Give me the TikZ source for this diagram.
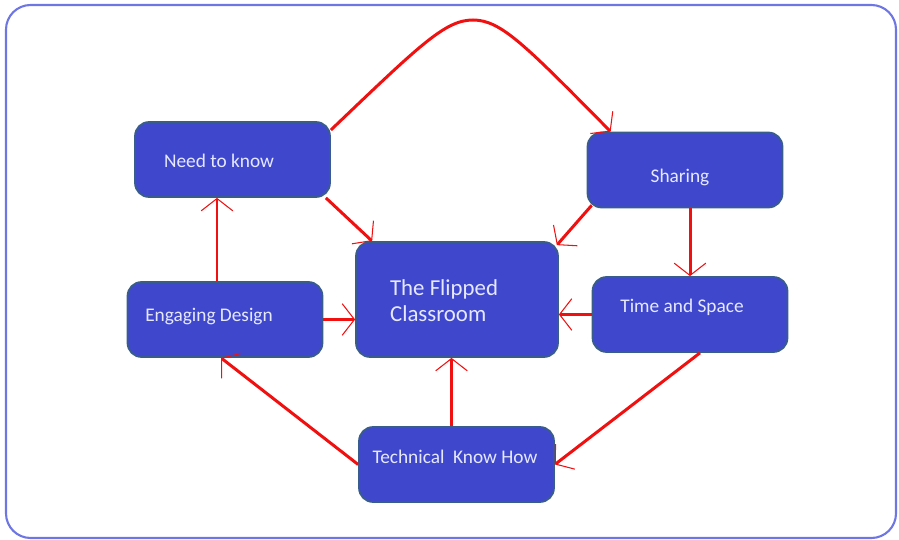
\documentclass[tikz,border=0pt]{standalone}
\usepackage{fontspec}
\setmainfont{Carlito}
\usetikzlibrary{arrows.meta}
\definecolor{boxblue}{HTML}{3F48CC}
\definecolor{boxedge}{HTML}{385D8A}
\definecolor{frameblue}{HTML}{6E76E4}
\definecolor{arrowred}{HTML}{F01010}
\definecolor{textlight}{HTML}{E6E8FF}

\begin{document}
\begin{tikzpicture}[
    x=0.02cm, y=-0.02cm,
    every node/.style={font=\fontsize{11}{13}\selectfont},
    >={Straight Barb[length=7pt, width=18pt, line width=0.6pt]},
    box/.style={draw=boxedge, fill=boxblue, rounded corners=8pt, minimum width=3.9cm,
                minimum height=1.5cm, line width=1pt},
    boxtext/.style={text=textlight, inner sep=1pt},
    link/.style={->, arrowred, line width=1.7pt},
]

% Frame
\useasboundingbox (0,0) rectangle (899,540);
\draw[frameblue, line width=1.2pt, rounded corners=14pt] (6,5) rectangle (896,538);

% === Boxes ===
\node[box] (need) at (232.5, 159.5) {};
\node[boxtext] (need-txt) at (219, 161) {Need to know};

\node[box] (share) at (685, 170) {};
\node[boxtext] (share-txt) at (680, 177) {Sharing};

\node[box, minimum width=4.04cm, minimum height=2.3cm] (flip) at (457, 299.5) {};
\node[boxtext, anchor=west, align=left, font=\fontsize{13}{14.8}\selectfont] (flip-txt) at (388, 301)
      {The Flipped\\Classroom};

\node[box] (engage) at (225, 319.5) {};
\node[boxtext] (engage-txt) at (209, 317) {Engaging Design};

\node[box] (time) at (690, 314.5) {};
\node[boxtext] (time-txt) at (682, 307) {Time and Space};

\node[box] (tech) at (456.5, 464.5) {};
\node[boxtext] (tech-txt) at (455, 457) {Technical\ \ Know How};

% === Arrows ===
\draw[link] ([yshift=0.59cm]need.east) .. controls (420,45) and (445,20) .. (473,20)
      .. controls (501,20) and (525,45) .. ([xshift=0.48cm]share.north west);
\draw[link] ([xshift=-0.1cm]need.south east) -- ([xshift=0.34cm]flip.north west);
\draw[link] ([xshift=0.1cm, yshift=0.06cm]share.south west) -- ([xshift=-0.04cm, yshift=-0.08cm]flip.north east);
\draw[link] (time.north |- share.south) -- (time.north);
\draw[link] (time.west) -- (time.west -| flip.east);
\draw[link] (engage.east) -- (engage.east -| flip.west);
\draw[link] ([xshift=-0.16cm]engage.north) -- ([xshift=-0.16cm]engage.north |- need.south);
\draw[link] (tech.west) -- ([xshift=-0.08cm]engage.south);
\draw[link] ([xshift=-0.1cm]tech.north) -- ([xshift=-0.1cm]tech.north |- flip.south);
\draw[link] ([xshift=0.2cm]time.south) -- (tech.east);

\end{tikzpicture}
\end{document}
